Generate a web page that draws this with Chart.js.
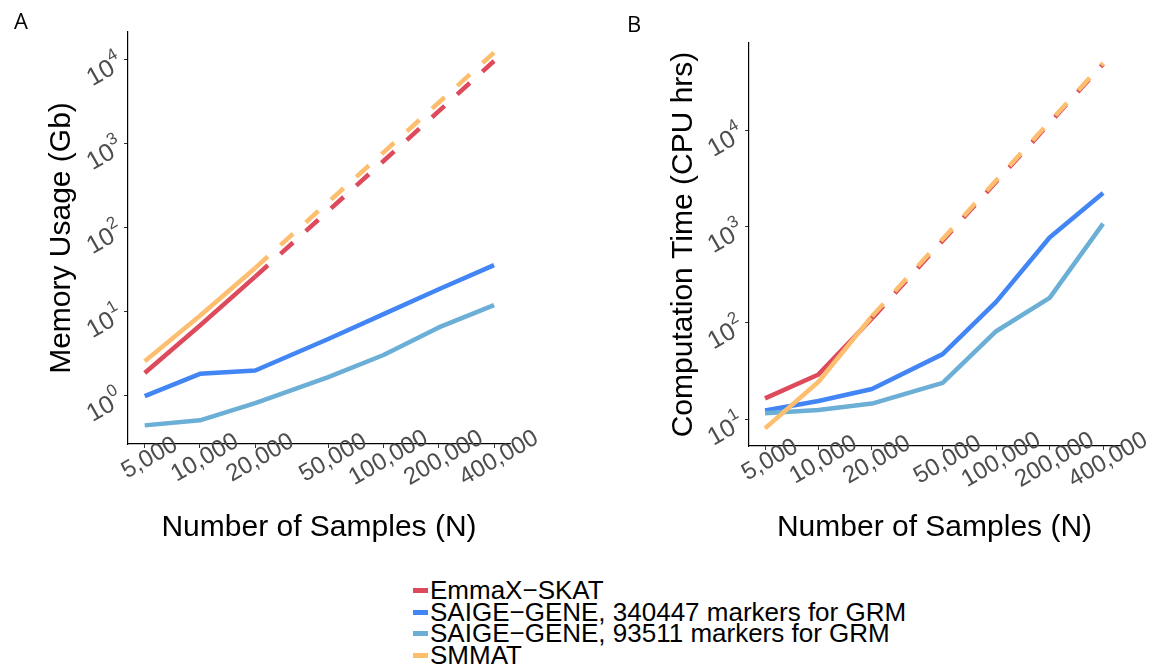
<!DOCTYPE html>
<html>
<head>
    <title>Memory and computation time</title>
    <script src="https://cdn.jsdelivr.net/npm/chart.js"></script>
    <style>
        body {
            margin: 0;
            background: #fff;
            font-family: "Liberation Sans", Arial, sans-serif;
        }
        #wrap {
            position: relative;
            width: 1150px;
            height: 667px;
            overflow: hidden;
        }
        canvas {
            position: absolute;
            top: 0;
        }
        #legend {
            position: absolute;
            left: 413px;
            top: 580px;
            font-size: 26px;
            color: #000;
        }
        #legend div {
            height: 21.5px;
            line-height: 21.5px;
            display: flex;
            align-items: center;
            white-space: nowrap;
        }
        #legend span.key {
            display: inline-block;
            width: 15px;
            height: 5px;
            margin-right: 2px;
        }
    </style>
</head>
<body>
<div id="wrap">
    <canvas id="memChart" width="575" height="560" style="left:0"></canvas>
    <canvas id="timeChart" width="575" height="560" style="left:575px"></canvas>
    <div id="legend"></div>
</div>

<script>
    // sample sizes (x) and tick labels
    const sampleSizes = [5000, 10000, 20000, 50000, 100000, 200000, 400000];
    const xTickLabels = ['5,000', '10,000', '20,000', '50,000', '100,000', '200,000', '400,000'];
    const memExponents = [0, 1, 2, 3, 4];
    const timeExponents = [1, 2, 3, 4];

    // A: memory usage (Gb); solid part is 5,000-20,000, dashed part is 20,000-400,000
    const emmaxMem = [1.85, 6.8, 26];
    const emmaxMemDashed = [26, 158, 619, 2430, 9620];
    const saige340kMem = [0.98, 1.81, 1.98, 4.7, 9.3, 18.4, 35.7];
    const saige93kMem = [0.44, 0.505, 0.81, 1.65, 3.03, 6.46, 11.9];
    const smmatMem = [2.55, 8.9, 33];
    const smmatMemDashed = [33, 201, 785, 3080, 12100];

    // B: computation time (CPU hrs)
    const emmaxTime = [16.4, 29.1, 111];
    const emmaxTimeDashed = [111, 714, 2920, 11900, 49000];
    const saige340kTime = [12.3, 15.4, 20.5, 47.3, 165, 770, 2240];
    const saige93kTime = [11.5, 12.4, 14.5, 23.8, 81.8, 182, 1075];
    const smmatTime = [8.0, 24.4, 117];
    const smmatTimeDashed = [117, 744, 3020, 12250, 50100];

    const seriesNames = ['EmmaX\u2212SKAT', 'SAIGE\u2212GENE, 340447 markers for GRM',
                         'SAIGE\u2212GENE, 93511 markers for GRM', 'SMMAT'];
    const colors = ['#DC4A5B', '#4285F4', '#6BAED6', '#FDBF6F'];

    const FONT = '"Liberation Sans", Arial, sans-serif';

    function pts(values, offset) {
        return values.map((v, i) => ({ x: sampleSizes[i + offset], y: v }));
    }

    function line(label, values, color, offset, dashed) {
        return {
            label: label,
            data: pts(values, offset),
            borderColor: color,
            backgroundColor: color,
            borderWidth: 4.5,
            borderDash: dashed ? [17, 17] : [],
            borderJoinStyle: 'round',
            pointRadius: 0,
            tension: 0,
            fill: false
        };
    }

    const panelText = {
        id: 'panelText',
        afterDraw(chart, args, o) {
            const ctx = chart.ctx;
            const xs = chart.scales.x, ys = chart.scales.y, area = chart.chartArea;
            ctx.save();
            ctx.fillStyle = '#4d4d4d';
            ctx.textBaseline = 'middle';

            // x tick labels, rotated 30 degrees
            ctx.font = '24px ' + FONT;
            ctx.textAlign = 'center';
            xs.ticks.forEach((t, i) => {
                const px = xs.getPixelForValue(t.value);
                ctx.save();
                ctx.translate(px + 5, area.bottom + 14);
                ctx.rotate(-Math.PI / 6);
                ctx.fillText(xTickLabels[i], 0, 0);
                ctx.restore();
            });

            // y tick labels as 10^n
            ys.ticks.forEach(t => {
                const py = ys.getPixelForValue(t.value);
                const e = String(Math.round(Math.log10(t.value)));
                ctx.save();
                ctx.translate(area.left - 27, py + 14);
                ctx.rotate(-Math.PI / 6);
                ctx.font = '25px ' + FONT;
                ctx.textAlign = 'center';
                ctx.fillText('10', 0, 0);
                ctx.font = '17px ' + FONT;
                ctx.textAlign = 'left';
                ctx.fillText(e, 14, -10);
                ctx.restore();
            });

            // axis titles
            ctx.fillStyle = '#000';
            ctx.font = '30px ' + FONT;
            ctx.textAlign = 'center';
            ctx.fillText(o.xTitle, (area.left + area.right) / 2, o.xTitleY);
            ctx.save();
            ctx.translate(o.yTitleX, (area.top + area.bottom) / 2);
            ctx.rotate(-Math.PI / 2);
            ctx.fillText(o.yTitle, 0, 0);
            ctx.restore();

            // panel letter
            ctx.font = '22px "Open Sans", ' + FONT;
            ctx.fillText(o.letter, o.letterX, o.letterY);
            ctx.restore();
        }
    };

    function makeChart(id, datasets, cfg) {
        return new Chart(document.getElementById(id), {
            type: 'line',
            data: { datasets: datasets },
            options: {
                responsive: false,
                animation: false,
                devicePixelRatio: 1,
                layout: { padding: cfg.padding },
                plugins: {
                    legend: { display: false },
                    tooltip: { enabled: false },
                    panelText: cfg.text
                },
                scales: {
                    x: {
                        type: 'logarithmic',
                        min: cfg.xMin,
                        max: cfg.xMax,
                        afterBuildTicks: s => { s.ticks = sampleSizes.map(v => ({ value: v })); },
                        afterFit: s => { s.height = 0; },
                        ticks: { display: false },
                        grid: { drawOnChartArea: false, drawTicks: true, tickLength: 4, tickColor: '#333' },
                        border: { display: true, color: '#000', width: 1.2 }
                    },
                    y: {
                        type: 'logarithmic',
                        min: cfg.yMin,
                        max: cfg.yMax,
                        afterBuildTicks: s => { s.ticks = cfg.exps.map(e => ({ value: Math.pow(10, e) })); },
                        afterFit: s => { s.width = 0; },
                        ticks: { display: false },
                        grid: { drawOnChartArea: false, drawTicks: true, tickLength: 4, tickColor: '#333' },
                        border: { display: true, color: '#000', width: 1.2 }
                    }
                }
            },
            plugins: [panelText]
        });
    }

    // first dataset is drawn on top
    makeChart('memChart', [
        line(seriesNames[3] + ' (extrapolated)', smmatMemDashed, colors[3], 2, true),
        line(seriesNames[0] + ' (extrapolated)', emmaxMemDashed, colors[0], 2, true),
        line(seriesNames[3], smmatMem, colors[3], 0, false),
        line(seriesNames[2], saige93kMem, colors[2], 0, false),
        line(seriesNames[1], saige340kMem, colors[1], 0, false),
        line(seriesNames[0], emmaxMem, colors[0], 0, false)
    ], {
        padding: { left: 128, top: 32, right: 65, bottom: 116 },
        xMin: 4054, xMax: 488600, yMin: 0.264, yMax: 21300,
        exps: memExponents,
        text: { letter: 'A', letterX: 21, letterY: 23, xTitle: 'Number of Samples (N)', xTitleY: 528,
                yTitle: 'Memory Usage (Gb)', yTitleX: 62 }
    });

    makeChart('timeChart', [
        line(seriesNames[3] + ' (extrapolated)', smmatTimeDashed, colors[3], 2, true),
        line(seriesNames[0] + ' (extrapolated)', emmaxTimeDashed, colors[0], 2, true),
        line(seriesNames[3], smmatTime, colors[3], 0, false),
        line(seriesNames[2], saige93kTime, colors[2], 0, false),
        line(seriesNames[1], saige340kTime, colors[1], 0, false),
        line(seriesNames[0], emmaxTime, colors[0], 0, false)
    ], {
        padding: { left: 174, top: 43, right: 30, bottom: 114 },
        xMin: 4062, xMax: 497900, yMin: 5.25, yMax: 80900,
        exps: timeExponents,
        text: { letter: 'B', letterX: 59, letterY: 26, xTitle: 'Number of Samples (N)', xTitleY: 528,
                yTitle: 'Computation Time (CPU hrs)', yTitleX: 109 }
    });

    // shared legend
    const legend = document.getElementById('legend');
    seriesNames.forEach((name, i) => {
        const row = document.createElement('div');
        const key = document.createElement('span');
        key.className = 'key';
        key.style.background = colors[i];
        row.appendChild(key);
        row.appendChild(document.createTextNode(name));
        legend.appendChild(row);
    });
</script>
</body>
</html>
